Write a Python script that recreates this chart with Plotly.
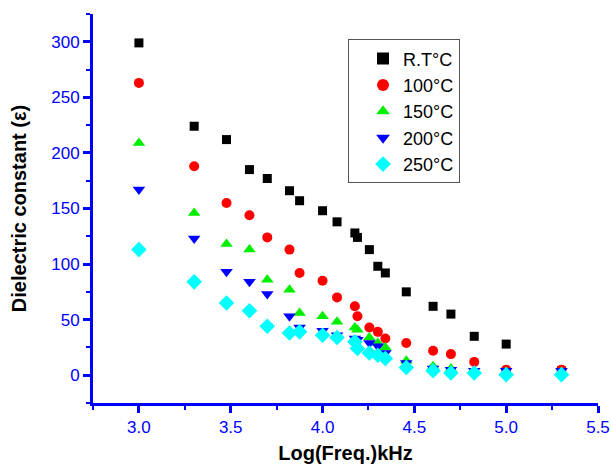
import plotly.graph_objects as go

log_freq = [3.0, 3.301, 3.477, 3.602, 3.699, 3.82, 3.875, 4.0, 4.079, 4.176,
            4.19, 4.255, 4.301, 4.342, 4.456, 4.602, 4.699, 4.826, 5.0, 5.301]

eps_rt = [299, 224, 212, 185, 177, 166, 157, 148, 138, 128, 124, 113, 98, 92, 75, 62, 55, 35, 28, 4]
eps_100 = [263, 188, 155, 144, 124, 113, 92, 85, 70, 62, 53, 43, 39, 33, 29, 22, 19, 12, 5, 5]
eps_150 = [209, 146, 118, 113, 86, 77, 56, 53, 48, 43, 41, 34, 29, 25, 13, 8, 6, 3, 3, 3]
eps_200 = [167, 123, 93, 84, 73, 53, 43, 40, 36, 33, 32, 29, 26, 20, 11, 6, 5, 4, 4, 4]
eps_250 = [113, 84, 65, 58, 44, 38, 39, 36, 34, 30, 24, 20, 18, 15, 7, 4, 2, 2, 0.5, 0.5]

series_names = ["R.T°C", "100°C", "150°C", "200°C", "250°C"]
series_vals = [eps_rt, eps_100, eps_150, eps_200, eps_250]
colors = ["#000000", "#ff0000", "#00ee00", "#0000ff", "#00ffff"]
symbols = ["square", "circle", "triangle-up", "triangle-down", "diamond"]
sizes = [9, 10, 11, 11, 12]

FONT = "Arial, Liberation Sans, sans-serif"

fig = go.Figure()
for name, vals, c, s, sz in zip(series_names, series_vals, colors, symbols, sizes):
    fig.add_trace(go.Scatter(
        x=log_freq, y=vals, mode="markers", name=name,
        marker=dict(symbol=s, color=c, size=sz, line=dict(width=0)),
    ))

axis_common = dict(
    showline=True, linecolor="#0000ff", linewidth=3,
    ticks="outside", ticklen=7, tickwidth=3, tickcolor="#0000ff",
    tickfont=dict(family=FONT, size=17, color="#0000ff"),
    showgrid=False, zeroline=False, mirror=False, automargin=False,
)

fig.update_layout(
    width=611, height=464,
    margin=dict(l=93, r=13, t=14, b=61),
    paper_bgcolor="white", plot_bgcolor="white",
    font=dict(family=FONT),
    showlegend=True,
    legend=dict(
        x=0.505, y=0.935, xanchor="left", yanchor="top",
        bordercolor="#555555", borderwidth=1, bgcolor="white",
        font=dict(family=FONT, size=18, color="#000000"),
        itemsizing="constant", indentation=14, tracegroupgap=0,
    ),
    xaxis=dict(
        range=[2.75, 5.5], tick0=3.0, dtick=0.5, tickformat=".1f",
        minor=dict(dtick=0.25, tick0=2.75, ticks="outside", ticklen=4, tickwidth=2, tickcolor="#0000ff"),
        title=dict(text="<b>Log(Freq.)kHz</b>", font=dict(family=FONT, size=20, color="#000000"), standoff=14),
        **axis_common,
    ),
    yaxis=dict(
        range=[-25, 325], tick0=0, dtick=50,
        minor=dict(dtick=25, tick0=0, ticks="outside", ticklen=4, tickwidth=2, tickcolor="#0000ff"),
        title=dict(text="<b>Dielectric constant (ε)</b>", font=dict(family=FONT, size=20, color="#000000"), standoff=20),
        **axis_common,
    ),
)

fig.write_html("out.html")
